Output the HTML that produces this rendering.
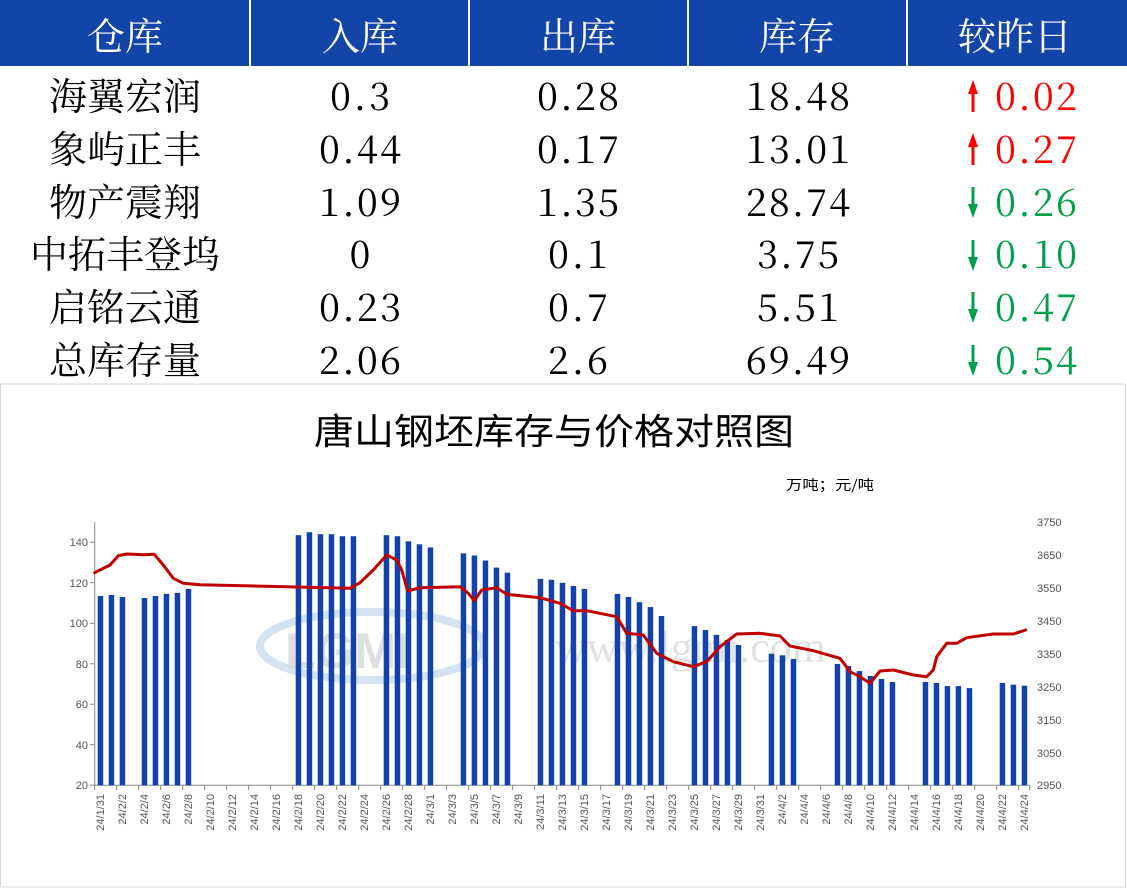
<!DOCTYPE html>
<html><head><meta charset="utf-8"><style>
html,body{margin:0;padding:0;background:#fff;}
svg{display:block;}
.h{font-family:"Liberation Serif","Noto Serif CJK SC",serif;font-size:38px;fill:#fff;text-anchor:middle;}
.t{font-family:"Liberation Serif","Noto Serif CJK SC",serif;font-size:38px;fill:#000;text-anchor:middle;}
.n{font-family:"Noto Serif CJK SC",serif;font-size:38px;fill:#000;text-anchor:middle;}
.r{fill:#ff0000}.g{fill:#00a04a}
.ax{font-family:"Liberation Sans",sans-serif;font-size:11px;fill:#555;}
.xl{font-family:"Liberation Sans",sans-serif;font-size:11px;fill:#555;text-anchor:end;}
</style></head><body>
<svg width="1127" height="888" viewBox="0 0 1127 888" xmlns="http://www.w3.org/2000/svg">
<rect x="0" y="0" width="1127" height="888" fill="#fff"/>
<rect x="0" y="0" width="1127" height="66" fill="#1345a8"/>
<g stroke="#fff" stroke-width="2"><line x1="250" y1="0" x2="250" y2="66"/><line x1="469" y1="0" x2="469" y2="66"/><line x1="688" y1="0" x2="688" y2="66"/><line x1="907" y1="0" x2="907" y2="66"/></g>
<text class="h" x="125" y="50">仓库</text><text class="h" x="360" y="50">入库</text><text class="h" x="578" y="50">出库</text><text class="h" x="797" y="50">库存</text><text class="h" x="1015" y="50">较昨日</text>

<g class="t">
<text x="125" y="110">海翼宏润</text><text x="125" y="163">象屿正丰</text><text x="125" y="216">物产震翔</text><text x="125" y="268">中拓丰登坞</text><text x="125" y="321">启铭云通</text><text x="125" y="374">总库存量</text>
</g>
<g class="n">
<text x="360" y="110" textLength="60" lengthAdjust="spacing">0.3</text>
<text x="360" y="163" textLength="82" lengthAdjust="spacing">0.44</text>
<text x="360" y="216" textLength="82" lengthAdjust="spacing">1.09</text>
<text x="360" y="268">0</text>
<text x="360" y="321" textLength="82" lengthAdjust="spacing">0.23</text>
<text x="360" y="374" textLength="82" lengthAdjust="spacing">2.06</text>
<text x="578" y="110" textLength="82" lengthAdjust="spacing">0.28</text>
<text x="578" y="163" textLength="82" lengthAdjust="spacing">0.17</text>
<text x="578" y="216" textLength="82" lengthAdjust="spacing">1.35</text>
<text x="578" y="268" textLength="60" lengthAdjust="spacing">0.1</text>
<text x="578" y="321" textLength="60" lengthAdjust="spacing">0.7</text>
<text x="578" y="374" textLength="60" lengthAdjust="spacing">2.6</text>
<text x="798" y="110" textLength="104" lengthAdjust="spacing">18.48</text>
<text x="798" y="163" textLength="104" lengthAdjust="spacing">13.01</text>
<text x="798" y="216" textLength="104" lengthAdjust="spacing">28.74</text>
<text x="798" y="268" textLength="82" lengthAdjust="spacing">3.75</text>
<text x="798" y="321" textLength="82" lengthAdjust="spacing">5.51</text>
<text x="798" y="374" textLength="104" lengthAdjust="spacing">69.49</text>
<text class="r" x="1036" y="110" textLength="82" lengthAdjust="spacing">0.02</text>
<text class="r" x="1036" y="163" textLength="82" lengthAdjust="spacing">0.27</text>
<text class="g" x="1036" y="216" textLength="82" lengthAdjust="spacing">0.26</text>
<text class="g" x="1036" y="268" textLength="82" lengthAdjust="spacing">0.10</text>
<text class="g" x="1036" y="321" textLength="82" lengthAdjust="spacing">0.47</text>
<text class="g" x="1036" y="374" textLength="82" lengthAdjust="spacing">0.54</text>
</g>
<!-- arrows -->
<g stroke-width="3">
<g stroke="#ff0000" fill="#ff0000"><line x1="973" y1="90" x2="973" y2="112"/><path d="M968,94 L973,80 L978,94Z" stroke="none"/>
<line x1="973" y1="143" x2="973" y2="165"/><path d="M968,147 L973,133 L978,147Z" stroke="none"/></g>
<g stroke="#00a04a" fill="#00a04a"><line x1="973" y1="187" x2="973" y2="208"/><path d="M968,204 L973,218 L978,204Z" stroke="none"/>
<line x1="973" y1="240" x2="973" y2="261"/><path d="M968,257 L973,271 L978,257Z" stroke="none"/>
<line x1="973" y1="292" x2="973" y2="313"/><path d="M968,309 L973,323 L978,309Z" stroke="none"/>
<line x1="973" y1="345" x2="973" y2="366"/><path d="M968,362 L973,376 L978,362Z" stroke="none"/></g>
</g>

<!-- chart frame -->
<rect x="0.5" y="384" width="1125" height="503" fill="none" stroke="#d8d8d8" stroke-width="1"/>
<text x="554" y="444" text-anchor="middle" font-family="Noto Sans CJK SC,sans-serif" font-size="36" textLength="480" lengthAdjust="spacingAndGlyphs" fill="#000">唐山钢坯库存与价格对照图</text>
<text x="830" y="490" text-anchor="middle" font-family="Noto Sans CJK SC,sans-serif" font-size="14" textLength="88" lengthAdjust="spacingAndGlyphs" fill="#000">万吨；元/吨</text>

<!-- watermark -->
<ellipse cx="372" cy="646" rx="112" ry="34" fill="none" stroke="#c9dbef" stroke-width="8" opacity="0.8"/>
<text x="285" y="668" font-family="Liberation Sans,sans-serif" font-weight="bold" font-size="50" fill="#d8d8d8" opacity="0.8">LGMI</text>
<text x="555" y="662" font-family="Liberation Serif,serif" font-size="44" fill="#e2e2e2">www.lgmi.com</text>

<!-- axes -->
<g stroke="#888" stroke-width="1" fill="none">
<line x1="94.7" y1="522" x2="94.7" y2="785.3"/>
<line x1="94.7" y1="785.3" x2="1030" y2="785.3"/>
<path d="M90,542.3H94.7M90,582.8H94.7M90,623.3H94.7M90,663.8H94.7M90,704.3H94.7M90,744.8H94.7M90,785.3H94.7"/>
<path d="M94.7,785v5M116.7,785v5M138.7,785v5M160.7,785v5M182.7,785v5M204.7,785v5M226.7,785v5M248.7,785v5M270.7,785v5M292.7,785v5M314.7,785v5M336.7,785v5M358.7,785v5M380.7,785v5M402.7,785v5M424.7,785v5M446.7,785v5M468.7,785v5M490.7,785v5M512.7,785v5M534.7,785v5M556.7,785v5M578.7,785v5M600.7,785v5M622.7,785v5M644.7,785v5M666.7,785v5M688.7,785v5M710.7,785v5M732.7,785v5M754.7,785v5M776.7,785v5M798.7,785v5M820.7,785v5M842.7,785v5M864.7,785v5M886.7,785v5M908.7,785v5M930.7,785v5M952.7,785v5M974.7,785v5M996.7,785v5M1018.7,785v5M1029.7,785v5"/>
</g>
<g class="ax" text-anchor="end">
<text x="88" y="546">140</text><text x="88" y="587">120</text><text x="88" y="627">100</text><text x="88" y="668">80</text><text x="88" y="708">60</text><text x="88" y="749">40</text><text x="88" y="789">20</text>
</g>
<g class="ax">
<text x="1037" y="526">3750</text><text x="1037" y="559">3650</text><text x="1037" y="592">3550</text><text x="1037" y="625">3450</text><text x="1037" y="658">3350</text><text x="1037" y="691">3250</text><text x="1037" y="724">3150</text><text x="1037" y="757">3050</text><text x="1037" y="789">2950</text>
</g>

<!-- bars -->
<g fill="#1243aa">
<rect x="97.7" y="596.0" width="5.5" height="189.3"/><rect x="108.7" y="595.0" width="5.5" height="190.3"/><rect x="119.7" y="597.0" width="5.5" height="188.3"/>
<rect x="141.7" y="598.0" width="5.5" height="187.3"/><rect x="152.7" y="596.0" width="5.5" height="189.3"/><rect x="163.7" y="593.9" width="5.5" height="191.4"/><rect x="174.7" y="592.9" width="5.5" height="192.4"/><rect x="185.7" y="588.9" width="5.5" height="196.4"/>
<rect x="295.7" y="535.2" width="5.5" height="250.1"/><rect x="306.7" y="532.2" width="5.5" height="253.1"/><rect x="317.7" y="534.2" width="5.5" height="251.1"/><rect x="328.7" y="534.2" width="5.5" height="251.1"/><rect x="339.7" y="536.2" width="5.5" height="249.1"/><rect x="350.7" y="536.2" width="5.5" height="249.1"/>
<rect x="383.7" y="535.2" width="5.5" height="250.1"/><rect x="394.7" y="536.2" width="5.5" height="249.1"/><rect x="405.7" y="541.3" width="5.5" height="244.0"/><rect x="416.7" y="544.3" width="5.5" height="241.0"/><rect x="427.7" y="547.4" width="5.5" height="237.9"/>
<rect x="460.7" y="553.4" width="5.5" height="231.9"/><rect x="471.7" y="555.5" width="5.5" height="229.8"/><rect x="482.7" y="560.5" width="5.5" height="224.8"/><rect x="493.7" y="567.6" width="5.5" height="217.7"/><rect x="504.7" y="572.7" width="5.5" height="212.6"/>
<rect x="537.7" y="578.8" width="5.5" height="206.5"/><rect x="548.7" y="579.8" width="5.5" height="205.5"/><rect x="559.7" y="582.8" width="5.5" height="202.5"/><rect x="570.7" y="586.0" width="5.5" height="199.3"/><rect x="581.7" y="588.9" width="5.5" height="196.4"/>
<rect x="614.7" y="593.9" width="5.5" height="191.4"/><rect x="625.7" y="597.0" width="5.5" height="188.3"/><rect x="636.7" y="602.2" width="5.5" height="183.1"/><rect x="647.7" y="607.1" width="5.5" height="178.2"/><rect x="658.7" y="616.0" width="5.5" height="169.3"/>
<rect x="691.7" y="626.1" width="5.5" height="159.2"/><rect x="702.7" y="630.0" width="5.5" height="155.3"/><rect x="713.7" y="634.8" width="5.5" height="150.5"/><rect x="724.7" y="640.1" width="5.5" height="145.2"/><rect x="735.7" y="645.0" width="5.5" height="140.3"/>
<rect x="768.7" y="653.7" width="5.5" height="131.6"/><rect x="779.7" y="655.3" width="5.5" height="130.0"/><rect x="790.7" y="658.9" width="5.5" height="126.4"/>
<rect x="834.7" y="664.0" width="5.5" height="121.3"/><rect x="845.7" y="666.0" width="5.5" height="119.3"/><rect x="856.7" y="671.1" width="5.5" height="114.2"/><rect x="867.7" y="676.0" width="5.5" height="109.3"/><rect x="878.7" y="679.0" width="5.5" height="106.3"/><rect x="889.7" y="682.0" width="5.5" height="103.3"/>
<rect x="922.7" y="682.0" width="5.5" height="103.3"/><rect x="933.7" y="683.0" width="5.5" height="102.3"/><rect x="944.7" y="686.1" width="5.5" height="99.2"/><rect x="955.7" y="686.1" width="5.5" height="99.2"/><rect x="966.7" y="688.1" width="5.5" height="97.2"/>
<rect x="999.7" y="683.0" width="5.5" height="102.3"/><rect x="1010.7" y="684.7" width="5.5" height="100.6"/><rect x="1021.7" y="685.7" width="5.5" height="99.6"/>
</g>

<!-- price line -->
<polyline fill="none" stroke="#c00000" stroke-width="3" stroke-linejoin="round" stroke-linecap="round" points="94.7,572.7 110,565 118.3,555.7 126.7,554 143.3,554.7 154.3,554.3 163.3,565 173.3,578.3 183.3,583.3 200,584.7 350,588.3 360,582.7 373.3,570 386.7,555 396.7,560 401.7,570 407.7,591 420,587.7 460,586.7 468.3,593.3 474.3,600.7 481.7,590 496.7,587.7 506.7,594.3 540,597.7 560,603.3 573.3,610.7 586.7,610.7 616.7,616.7 626.7,633.3 643.3,635 656.7,653.3 673.3,661.7 693.3,666.7 706.7,661.7 720,646.7 736.7,634 760,633.3 780,636 790,646 813.3,650.7 840,658.3 850,671.7 860,676.7 870,683.3 880,671 893.3,670 913.3,675 926.7,676.7 933.3,670 936.7,656.7 946.7,643.3 956.7,643.3 966.7,637.7 993.3,634 1013.3,634 1025.7,630"/>

<!-- x labels -->
<g class="xl">
<text transform="translate(104,794) rotate(-90)">24/1/31</text>
<text transform="translate(126,794) rotate(-90)">24/2/2</text>
<text transform="translate(148,794) rotate(-90)">24/2/4</text>
<text transform="translate(170,794) rotate(-90)">24/2/6</text>
<text transform="translate(192,794) rotate(-90)">24/2/8</text>
<text transform="translate(214,794) rotate(-90)">24/2/10</text>
<text transform="translate(236,794) rotate(-90)">24/2/12</text>
<text transform="translate(258,794) rotate(-90)">24/2/14</text>
<text transform="translate(280,794) rotate(-90)">24/2/16</text>
<text transform="translate(302,794) rotate(-90)">24/2/18</text>
<text transform="translate(324,794) rotate(-90)">24/2/20</text>
<text transform="translate(346,794) rotate(-90)">24/2/22</text>
<text transform="translate(368,794) rotate(-90)">24/2/24</text>
<text transform="translate(390,794) rotate(-90)">24/2/26</text>
<text transform="translate(412,794) rotate(-90)">24/2/28</text>
<text transform="translate(434,794) rotate(-90)">24/3/1</text>
<text transform="translate(456,794) rotate(-90)">24/3/3</text>
<text transform="translate(478,794) rotate(-90)">24/3/5</text>
<text transform="translate(500,794) rotate(-90)">24/3/7</text>
<text transform="translate(522,794) rotate(-90)">24/3/9</text>
<text transform="translate(544,794) rotate(-90)">24/3/11</text>
<text transform="translate(566,794) rotate(-90)">24/3/13</text>
<text transform="translate(588,794) rotate(-90)">24/3/15</text>
<text transform="translate(610,794) rotate(-90)">24/3/17</text>
<text transform="translate(632,794) rotate(-90)">24/3/19</text>
<text transform="translate(654,794) rotate(-90)">24/3/21</text>
<text transform="translate(676,794) rotate(-90)">24/3/23</text>
<text transform="translate(698,794) rotate(-90)">24/3/25</text>
<text transform="translate(720,794) rotate(-90)">24/3/27</text>
<text transform="translate(742,794) rotate(-90)">24/3/29</text>
<text transform="translate(764,794) rotate(-90)">24/3/31</text>
<text transform="translate(786,794) rotate(-90)">24/4/2</text>
<text transform="translate(808,794) rotate(-90)">24/4/4</text>
<text transform="translate(830,794) rotate(-90)">24/4/6</text>
<text transform="translate(852,794) rotate(-90)">24/4/8</text>
<text transform="translate(874,794) rotate(-90)">24/4/10</text>
<text transform="translate(896,794) rotate(-90)">24/4/12</text>
<text transform="translate(918,794) rotate(-90)">24/4/14</text>
<text transform="translate(940,794) rotate(-90)">24/4/16</text>
<text transform="translate(962,794) rotate(-90)">24/4/18</text>
<text transform="translate(984,794) rotate(-90)">24/4/20</text>
<text transform="translate(1006,794) rotate(-90)">24/4/22</text>
<text transform="translate(1028,794) rotate(-90)">24/4/24</text>
</g>
</svg>
</body></html>
